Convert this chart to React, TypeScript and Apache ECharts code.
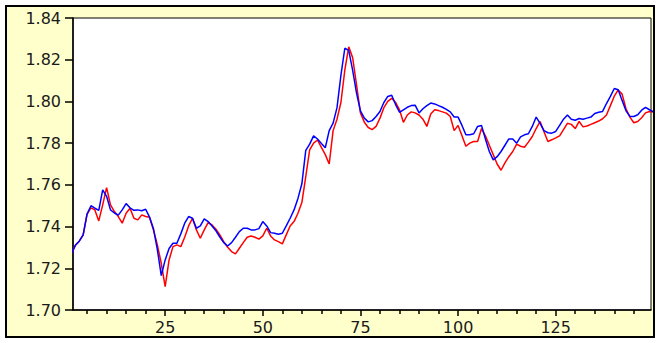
import React, { useEffect, useRef } from "react";
import * as echarts from "echarts";

const X_START = 1;
const blueValues = [
  1.727, 1.731, 1.733, 1.736, 1.746, 1.75, 1.7488, 1.7478, 1.7576, 1.7545,
  1.748, 1.7465, 1.7455, 1.748, 1.751, 1.749, 1.7478, 1.748, 1.7476, 1.7483,
  1.7445, 1.739, 1.729, 1.7165, 1.724, 1.7295, 1.732, 1.732, 1.7365, 1.7416,
  1.7448, 1.744, 1.7392, 1.7403, 1.7437, 1.7424, 1.7403, 1.738, 1.735, 1.7323,
  1.7307, 1.7323, 1.7349, 1.7376, 1.7392, 1.7392, 1.7384, 1.7384, 1.739, 1.7424,
  1.7403, 1.7371, 1.7368, 1.7363, 1.7368, 1.7403, 1.744, 1.748, 1.7535, 1.7605,
  1.7765, 1.7795, 1.7835, 1.782, 1.7798, 1.7778, 1.786, 1.7896, 1.797, 1.8125,
  1.8255, 1.8245, 1.815, 1.804, 1.7955, 1.792, 1.7902, 1.7908, 1.7928, 1.7952,
  1.7995, 1.8024, 1.803, 1.7985, 1.7948, 1.796, 1.7972, 1.798, 1.7982, 1.7945,
  1.7965, 1.798, 1.7992, 1.7988, 1.798, 1.7972, 1.7962, 1.795, 1.7925, 1.7925,
  1.7885, 1.784, 1.784, 1.7845, 1.788, 1.7885, 1.782, 1.776, 1.772, 1.7735,
  1.776, 1.779, 1.782, 1.782, 1.78, 1.783, 1.784, 1.7845, 1.788, 1.7925,
  1.7895, 1.786, 1.785, 1.7848, 1.7856, 1.7885, 1.7915, 1.7935, 1.7915, 1.791,
  1.7918, 1.7915, 1.792, 1.7925, 1.7942, 1.7948, 1.7952, 1.799, 1.8024, 1.8062,
  1.8056, 1.8005, 1.7955, 1.7928, 1.7928, 1.7936, 1.7958, 1.7971, 1.796, 1.795,
];
const redValues = [
  1.727, 1.731, 1.733, 1.736, 1.746, 1.749, 1.748, 1.7427, 1.7504, 1.7587,
  1.7504, 1.7472, 1.7448, 1.7416, 1.7464, 1.7488, 1.744, 1.7432, 1.7456, 1.7448,
  1.7445, 1.7384, 1.7312, 1.7224, 1.7112, 1.724, 1.7304, 1.7312, 1.7304, 1.7349,
  1.7403, 1.744, 1.7384, 1.7344, 1.7384, 1.7419, 1.7408, 1.7387, 1.736, 1.7328,
  1.7301, 1.728, 1.7269, 1.7296, 1.7323, 1.7349, 1.7355, 1.7349, 1.734, 1.7355,
  1.7392, 1.7355, 1.7336, 1.7328, 1.7317, 1.736, 1.7403, 1.7424, 1.7464, 1.7515,
  1.764, 1.7768, 1.78, 1.7815, 1.778, 1.7745, 1.77, 1.786, 1.7915, 1.7995,
  1.815, 1.8262, 1.821, 1.808, 1.7945, 1.79, 1.7875, 1.7865, 1.788, 1.792,
  1.797, 1.8, 1.8015, 1.7995, 1.796, 1.79, 1.7935, 1.795, 1.7945, 1.7935,
  1.7915, 1.788, 1.794, 1.796, 1.7956, 1.795, 1.7944, 1.7928, 1.786, 1.7885,
  1.7835, 1.7785, 1.78, 1.7808, 1.7808, 1.787, 1.7835, 1.779, 1.7745, 1.77,
  1.767, 1.7705, 1.7735, 1.776, 1.7795, 1.7785, 1.778, 1.7805, 1.7832, 1.787,
  1.7904, 1.7855, 1.7808, 1.7816, 1.7825, 1.7835, 1.7865, 1.7895, 1.789, 1.787,
  1.7904, 1.7878, 1.7882, 1.789, 1.7898, 1.7906, 1.7917, 1.7935, 1.798, 1.8025,
  1.8055, 1.8035, 1.7965, 1.7925, 1.7898, 1.7904, 1.7922, 1.7945, 1.7952, 1.795,
];
const xLabelValues = [25, 50, 75, 100, 125];
const xMinorTickValues = [
  5, 10, 15, 20, 30, 35, 40, 45, 55, 60, 65, 70, 80, 85, 90, 95, 105, 110, 115,
  120, 130, 135, 140, 145,
];
const yTickValues = [1.7, 1.72, 1.74, 1.76, 1.78, 1.8, 1.82, 1.84];

const X_MIN = 1.4;
const X_MAX = 149.4;

export default function App() {
  const ref = useRef<HTMLDivElement>(null);

  useEffect(() => {
    if (!ref.current) return;
    const chart = echarts.init(ref.current, undefined, { renderer: "svg" });
    const toPairs = (arr: number[]) => arr.map((v, k) => [X_START + k, v]);
    const labelStyle = {
      color: "#1a1a1a",
      fontFamily: "DejaVu Sans",
      fontSize: 16,
    };
    chart.setOption({
      animation: false,
      backgroundColor: "transparent",
      grid: {
        left: 73,
        right: 8,
        top: 18,
        bottom: 33,
        show: true,
        backgroundColor: "#ffffff",
        borderColor: "#000000",
        borderWidth: 1,
      },
      xAxis: [
        {
          type: "value",
          min: X_MIN,
          max: X_MAX,
          splitLine: { show: false },
          axisLine: { show: true, onZero: false, lineStyle: { color: "#000", width: 1.5 } },
          axisTick: {
            show: true,
            customValues: xLabelValues,
            length: 6,
            lineStyle: { color: "#000", width: 1.5 },
          },
          axisLabel: { ...labelStyle, customValues: xLabelValues, margin: 9 },
        },
        {
          type: "value",
          min: X_MIN,
          max: X_MAX,
          position: "bottom",
          splitLine: { show: false },
          axisLine: { show: false, onZero: false },
          axisTick: {
            show: true,
            customValues: xMinorTickValues,
            length: 4,
            lineStyle: { color: "#000", width: 1.5 },
          },
          axisLabel: { show: false },
        },
      ],
      yAxis: {
        type: "value",
        min: 1.7,
        max: 1.84,
        splitLine: { show: false },
        axisLine: { show: true, onZero: false, lineStyle: { color: "#000", width: 1.5 } },
        axisTick: {
          show: true,
          customValues: yTickValues,
          length: 8,
          lineStyle: { color: "#000", width: 1.5 },
        },
        axisLabel: {
          ...labelStyle,
          customValues: yTickValues,
          margin: 12,
          formatter: (v: number) => v.toFixed(2),
        },
      },
      series: [
        {
          name: "red",
          type: "line",
          data: toPairs(redValues),
          showSymbol: false,
          symbol: "none",
          lineStyle: { color: "#ff0000", width: 1.5 },
          clip: true,
        },
        {
          name: "blue",
          type: "line",
          data: toPairs(blueValues),
          showSymbol: false,
          symbol: "none",
          lineStyle: { color: "#0000ff", width: 1.5 },
          clip: true,
        },
      ],
    });
    return () => chart.dispose();
  }, []);

  return (
    <div
      style={{
        position: "absolute",
        left: 0,
        top: 0,
        width: 659,
        height: 343,
        background: "#ffffff",
      }}
    >
      <div
        style={{
          position: "absolute",
          left: 5,
          top: 5,
          width: 646,
          height: 329,
          border: "2px solid #000",
          background: "#ffffcc",
        }}
      />
      <div
        ref={ref}
        style={{ position: "absolute", left: 0, top: 0, width: 659, height: 343 }}
      />
    </div>
  );
}
